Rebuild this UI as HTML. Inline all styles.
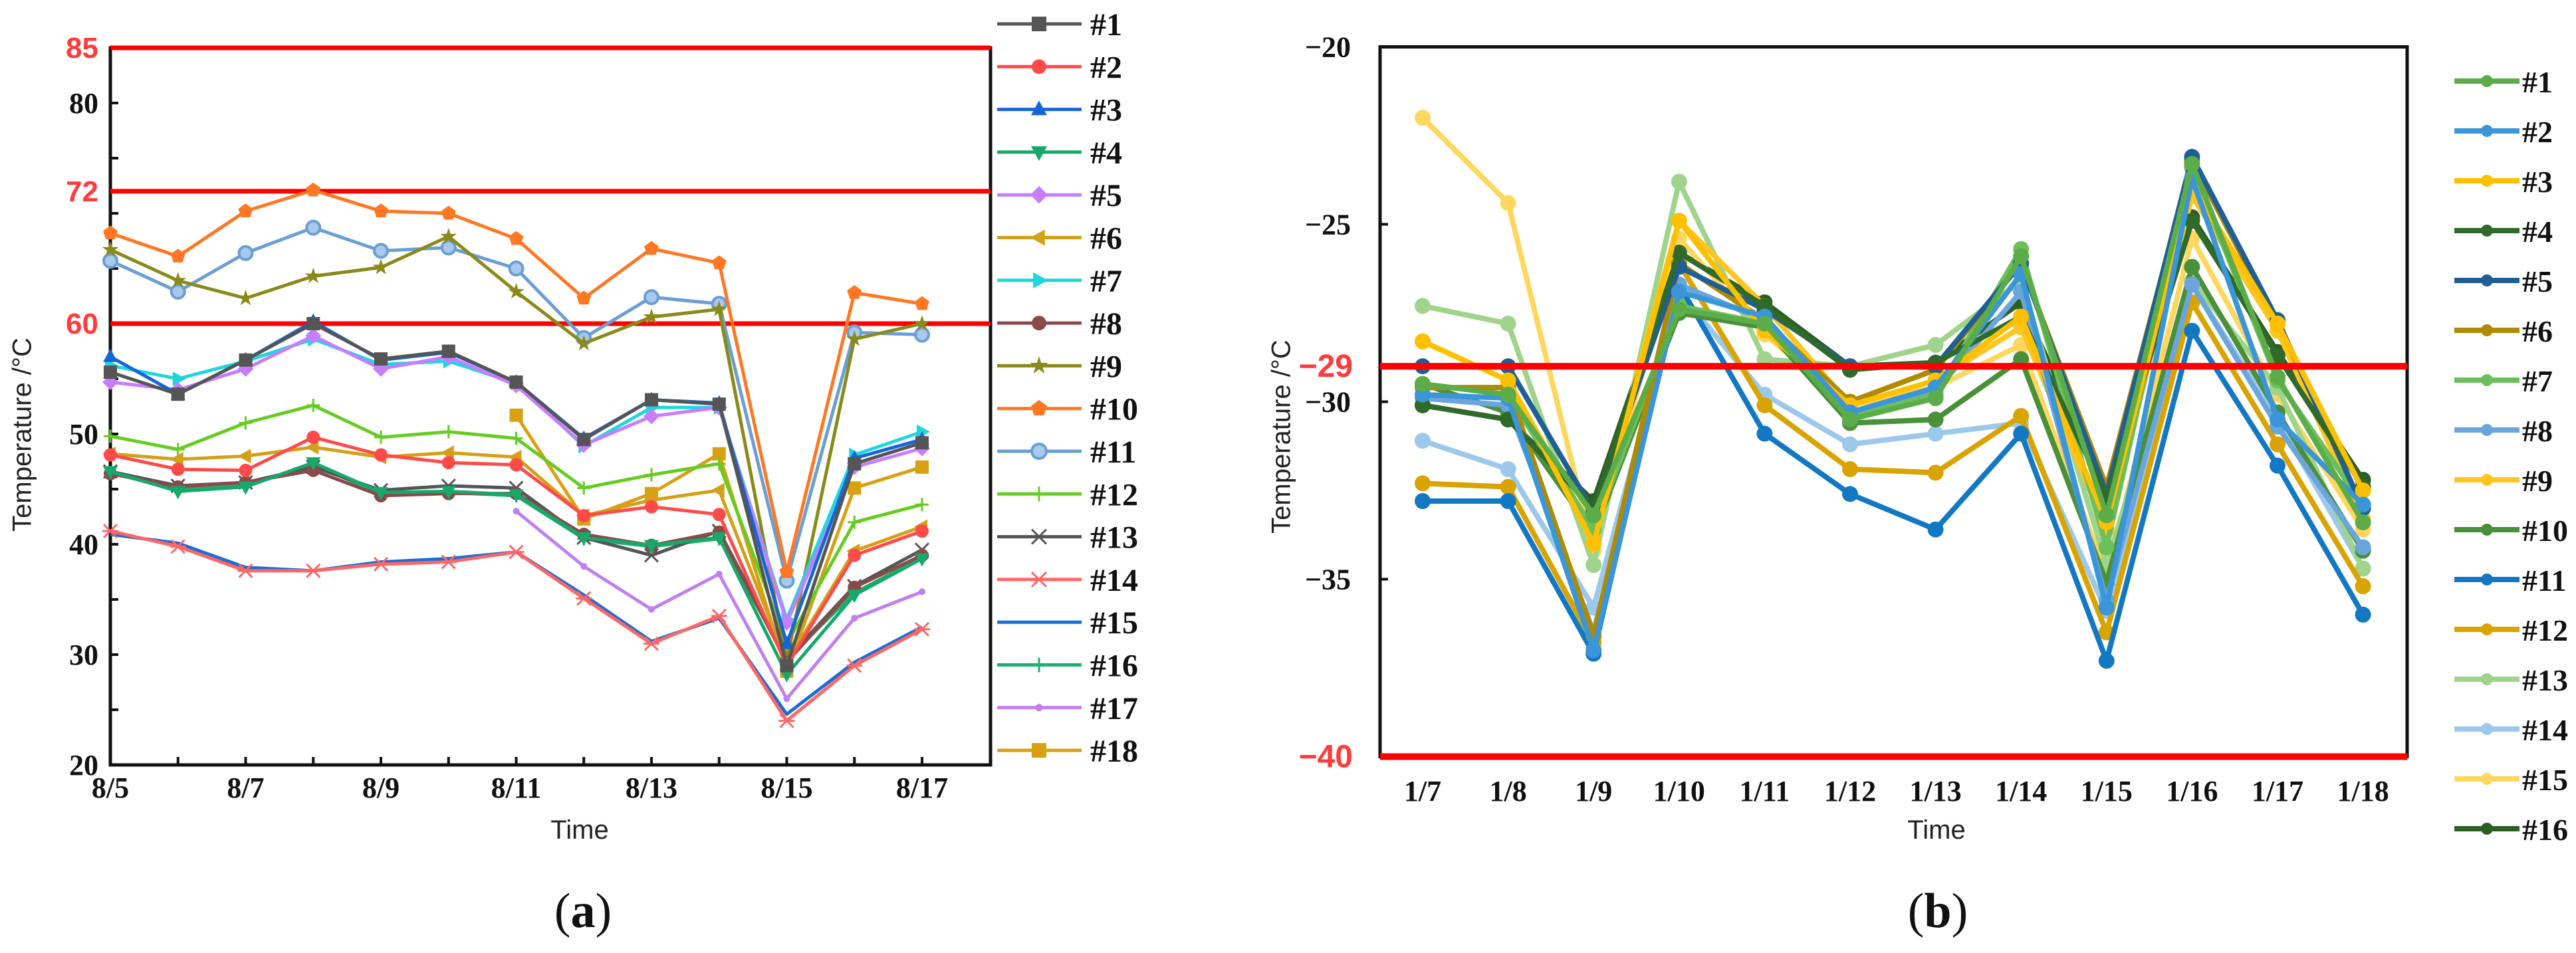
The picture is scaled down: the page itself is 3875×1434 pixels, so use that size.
<!DOCTYPE html>
<html><head><meta charset="utf-8"><style>
html,body{margin:0;padding:0;background:#fff}
svg{display:block}
.tk{font-family:"Liberation Serif",serif;font-weight:bold;font-size:44px;fill:#111}
.rt{font-family:"Liberation Sans",sans-serif;font-weight:bold;font-size:44px;fill:#ff3b3b}
.lg{font-family:"Liberation Serif",serif;font-weight:bold;font-size:48px;fill:#111}
.at{font-family:"Liberation Sans",sans-serif;font-size:40px;fill:#222}
.cap{font-family:"Liberation Serif",serif;font-size:74px;fill:#111}
</style></head><body>
<svg id="s" xmlns="http://www.w3.org/2000/svg" width="3875" height="1434" viewBox="0 0 3875 1434">
<rect width="3875" height="1434" fill="#fff"/>
<g id="ga"></g>
<g id="gb"></g>
<text class="at" x="36" y="654" text-anchor="middle" dominant-baseline="middle" transform="rotate(-90 36 654)">Temperature /°C</text>
<text class="at" x="872" y="1262" text-anchor="middle" font-size="44">Time</text>
<text class="cap" x="877" y="1395" text-anchor="middle">(<tspan font-weight="bold">a</tspan>)</text>
<text class="at" x="1930" y="657" text-anchor="middle" dominant-baseline="middle" transform="rotate(-90 1930 657)">Temperature /°C</text>
<text class="at" x="2913" y="1262" text-anchor="middle" font-size="44">Time</text>
<text class="cap" x="2915" y="1395" text-anchor="middle">(<tspan font-weight="bold">b</tspan>)</text>
</svg>
<script>
// ---------- chart (a) data ----------
const catsA = ["8/5","8/6","8/7","8/8","8/9","8/10","8/11","8/12","8/13","8/14","8/15","8/16","8/17"];
const tickLabelsA = ["8/5","8/7","8/9","8/11","8/13","8/15","8/17"];
const yTicksA = [80,50,40,30,20];
const redLinesA = [85,72,60];
const namesA = ["#1","#2","#3","#4","#5","#6","#7","#8","#9","#10","#11","#12","#13","#14","#15","#16","#17","#18"];
const a1 = [55.6,53.6,56.7,60.0,56.8,57.5,54.7,49.5,53.1,52.7,29.0,47.3,49.2];
const a2 = [48.1,46.8,46.7,49.7,48.1,47.4,47.2,42.6,43.4,42.7,29.0,39.0,41.2];
const a3 = [57.0,53.6,56.7,60.2,56.7,57.4,54.7,49.6,53.1,52.8,31.0,47.8,49.5];
const a4 = [46.6,44.8,45.2,47.4,44.7,44.8,44.5,40.6,39.9,40.6,28.2,35.4,38.7];
const a5 = [54.7,54.0,55.9,58.9,55.9,57.0,54.4,49.0,51.6,52.4,32.9,47.0,48.7];
const a6 = [48.2,47.7,48.0,48.8,47.9,48.3,47.9,42.6,44.0,44.9,29.3,39.4,41.6];
const a7 = [56.2,55.0,56.6,58.6,56.3,56.6,54.6,48.9,52.4,52.4,33.2,48.1,50.2];
const a8 = [46.4,45.2,45.6,46.7,44.4,44.6,44.6,40.9,39.9,41.1,29.3,36.1,39.0];
const a9 = [66.7,63.9,62.3,64.3,65.1,67.9,62.9,58.2,60.6,61.3,29.5,58.6,60.0];
const a10 = [68.2,66.1,70.2,72.1,70.2,70.0,67.7,62.3,66.8,65.5,37.5,62.8,61.8];
const a11 = [65.7,62.9,66.4,68.7,66.6,66.9,65.0,58.7,62.4,61.8,36.7,59.2,59.0];
const a12 = [49.8,48.6,51.0,52.6,49.7,50.2,49.6,45.1,46.3,47.3,31.0,42.0,43.6];
const a13 = [46.6,45.3,45.6,47.0,44.9,45.3,45.1,40.6,39.0,41.2,29.6,36.2,39.5];
const a14 = [41.2,39.8,37.6,37.6,38.2,38.4,39.3,35.1,31.0,33.5,24.0,29.0,32.3];
const a15 = [40.9,40.1,37.9,37.6,38.4,38.7,39.3,35.4,31.2,33.3,24.6,29.3,32.5];
const a16 = [46.5,44.9,45.3,47.2,44.6,44.7,44.4,40.5,39.8,40.5,29.6,35.6,38.8];
const a17 = [null,null,null,null,null,null,43.0,38.0,34.1,37.3,26.0,33.3,35.7];
const a18 = [null,null,null,null,null,null,51.7,42.3,44.6,48.2,28.5,45.1,47.0];
const seriesA = [a1,a2,a3,a4,a5,a6,a7,a8,a9,a10,a11,a12,a13,a14,a15,a16,a17,a18];
const colorsA = ["#555555","#ff4a4a","#1565d8","#17a86b","#c77dff","#d4a017","#1fd6dd","#8b4a4a","#8a8a1a","#ff7722","#6a9fd4","#66cc22","#555555","#ff6666","#1a6ed8","#1ab070","#c080f0","#d9a012"];
const shapesA = ["square","circle","up","down","diamond","left","right","circle","star","pent","ring","plus","x","ast","none","plus","dot","square"];

// ---------- chart (b) data ----------
const catsB = ["1/7","1/8","1/9","1/10","1/11","1/12","1/13","1/14","1/15","1/16","1/17","1/18"];
const yTicksB = [-20,-25,-30,-35];
const redLinesB = [-29,-40];
const namesB = ["#1","#2","#3","#4","#5","#6","#7","#8","#9","#10","#11","#12","#13","#14","#15","#16"];
const b1 = [-29.5,-29.8,-33.2,-27.4,-27.8,-30.5,-29.9,-25.9,-33.2,-23.3,-29.3,-33.4];
const b2 = [-29.8,-29.9,-37.0,-26.9,-27.6,-30.3,-29.6,-26.4,-35.8,-23.7,-30.5,-32.9];
const b3 = [-28.3,-29.4,-34.0,-24.9,-28.0,-30.1,-29.4,-27.6,-33.4,-23.9,-27.8,-32.5];
const b4 = [-30.1,-30.5,-33.0,-25.8,-27.3,-29.1,-28.9,-27.6,-32.7,-24.9,-28.7,-32.4];
const b5 = [-29.0,-29.0,-33.1,-26.2,-27.4,-29.0,-29.0,-26.1,-32.6,-23.1,-27.7,-33.0];
const b6 = [-29.6,-29.6,-36.6,-26.1,-27.7,-30.0,-29.1,-26.1,-32.4,-23.2,-27.8,-32.5];
const b7 = [-29.5,-29.8,-33.6,-27.3,-27.8,-30.4,-29.8,-25.7,-34.1,-23.4,-29.4,-32.9];
const b8 = [-29.9,-30.1,-36.5,-26.7,-27.7,-30.5,-29.7,-26.9,-35.6,-26.7,-30.7,-34.1];
const b9 = [-28.3,-29.4,-33.7,-24.9,-27.3,-30.1,-29.4,-27.9,-33.6,-24.2,-28.0,-33.3];
const b10 = [-29.5,-30.3,-33.7,-27.5,-27.9,-30.6,-30.5,-28.8,-35.1,-26.2,-30.3,-34.2];
const b11 = [-32.8,-32.8,-37.1,-26.7,-30.9,-32.6,-33.6,-30.9,-37.3,-28.0,-31.8,-36.0];
const b12 = [-32.3,-32.4,-36.8,-26.1,-30.1,-31.9,-32.0,-30.4,-36.5,-27.2,-31.2,-35.2];
const b13 = [-27.3,-27.8,-34.6,-23.8,-28.8,-29.0,-28.4,-26.6,-34.6,-26.6,-29.6,-34.7];
const b14 = [-31.1,-31.9,-35.8,-26.9,-29.8,-31.2,-30.9,-30.6,-35.9,-26.7,-30.5,-34.7];
const b15 = [-22.0,-24.4,-34.2,-25.4,-28.1,-30.1,-29.6,-28.4,-34.9,-25.4,-29.8,-33.6];
const b16 = [-30.1,-30.5,-32.8,-25.8,-27.2,-29.0,-28.9,-27.2,-32.4,-24.8,-28.6,-32.2];
const seriesB = [b1,b2,b3,b4,b5,b6,b7,b8,b9,b10,b11,b12,b13,b14,b15,b16];
const colorsB = ["#5cad4a","#3a96d8","#ffc000","#2f6a2a","#1f5f96","#b08a00","#6cbf5a","#6aa6dc","#ffc520","#4a8f3a","#1378c4","#d9a300","#9fd48a","#9cc8ec","#ffd75e","#2b5e22"];

const NS = "http://www.w3.org/2000/svg";
function mk(tag, attrs, parent){const e=document.createElementNS(NS,tag);for(const k in attrs)e.setAttribute(k,attrs[k]);parent.appendChild(e);return e;}

const AL=166,AR=1490,AT=72,AB=1151;
function xA(i){return AL+i*101.75;}
function yA(v){return AT+(85-v)*(AB-AT)/65;}
const BL=2076,BR=3621,BT=70.5,BB=1138.5;
function xB(i){return 2140+i*128.6;}
function yB(v){return BT+(-20-v)*(BB-BT)/20;}

const ga=document.getElementById('ga'), gb=document.getElementById('gb');

let fr=mk('rect',{x:AL,y:AT,width:AR-AL,height:AB-AT,fill:'none',stroke:'#111','stroke-width':5},ga);


for(let v=20;v<=85;v+=5){
  const t=mk('line',{x1:AL,x2:AL+12,y1:yA(v),y2:yA(v),stroke:'#111','stroke-width':4},ga);
  
  
}
catsA.forEach((c,i)=>{
  const t=mk('line',{x1:xA(i),x2:xA(i),y1:AB,y2:AB-12,stroke:'#111','stroke-width':4},ga);
  
  
});
yTicksA.forEach(v=>{
  const t=mk('text',{x:148,y:yA(v)+15,'text-anchor':'end',class:'tk'},ga);
  t.textContent=v;
  
  
});
redLinesA.forEach(v=>{
  const l=mk('line',{x1:AL,x2:AR,y1:yA(v),y2:yA(v),stroke:'#ff0000','stroke-width':7},ga);
  
  
  const t=mk('text',{x:148,y:yA(v)+15,'text-anchor':'end',class:'rt'},ga);
  t.textContent=v;
  
  
});
tickLabelsA.forEach(lab=>{
  const i=catsA.indexOf(lab);
  const t=mk('text',{x:xA(i),y:1200,'text-anchor':'middle',class:'tk'},ga);
  t.textContent=lab;
  
  
});

function marker(g,shape,x,y,c,r){
  let e;
  const p=(pts)=>mk('polygon',{points:pts.map(q=>q.join(',')).join(' '),fill:c},g);
  switch(shape){
    case 'square': e=mk('rect',{x:x-r,y:y-r,width:2*r,height:2*r,fill:c},g);break;
    case 'circle': e=mk('circle',{cx:x,cy:y,r:r,fill:c},g);break;
    case 'ring': e=mk('circle',{cx:x,cy:y,r:r,fill:'#a8c8ec',stroke:c,'stroke-width':4},g);break;
    case 'up': e=p([[x,y-r*1.2],[x-r*1.1,y+r*0.8],[x+r*1.1,y+r*0.8]]);break;
    case 'down': e=p([[x,y+r*1.2],[x-r*1.1,y-r*0.8],[x+r*1.1,y-r*0.8]]);break;
    case 'left': e=p([[x-r*1.2,y],[x+r*0.8,y-r*1.1],[x+r*0.8,y+r*1.1]]);break;
    case 'right': e=p([[x+r*1.2,y],[x-r*0.8,y-r*1.1],[x-r*0.8,y+r*1.1]]);break;
    case 'diamond': e=p([[x,y-r*1.2],[x+r*1.2,y],[x,y+r*1.2],[x-r*1.2,y]]);break;
    case 'pent': {const a=[];for(let k=0;k<5;k++){const t=-Math.PI/2+k*2*Math.PI/5;a.push([x+r*1.15*Math.cos(t),y+r*1.15*Math.sin(t)]);}e=p(a);break;}
    case 'star': {const a=[];for(let k=0;k<10;k++){const t=-Math.PI/2+k*Math.PI/5;const rr=k%2?r*0.5:r*1.3;a.push([x+rr*Math.cos(t),y+rr*Math.sin(t)]);}e=p(a);break;}
    case 'plus': e=mk('path',{d:`M${x-r} ${y}H${x+r}M${x} ${y-r}V${y+r}`,stroke:c,'stroke-width':3},g);break;
    case 'x': e=mk('path',{d:`M${x-r} ${y-r}L${x+r} ${y+r}M${x-r} ${y+r}L${x+r} ${y-r}`,stroke:c,'stroke-width':3},g);break;
    case 'ast': e=mk('path',{d:`M${x-r} ${y-r}L${x+r} ${y+r}M${x-r} ${y+r}L${x+r} ${y-r}M${x-r*1.2} ${y}H${x+r*1.2}`,stroke:c,'stroke-width':3},g);break;
    case 'dot': e=mk('circle',{cx:x,cy:y,r:r*0.5,fill:c},g);break;
    default: return;
  }
  
  
}

for(let s=seriesA.length-1;s>=0;s--){
  const g=mk('g',{},ga);
  
  
  const d=[];
  seriesA[s].forEach((v,i)=>{if(v!==null)d.push((d.length?'L':'M')+xA(i)+' '+yA(v));});
  const pl=mk('path',{d:d.join(''),fill:'none',stroke:colorsA[s],'stroke-width':5,'stroke-linejoin':'round'},g);
  
  
  seriesA[s].forEach((v,i)=>{if(v!==null)marker(g,shapesA[s],xA(i),yA(v),colorsA[s],10);});
}
namesA.forEach((n,k)=>{
  const y=36+k*64.3;
  const g=mk('g',{},ga);
  
  
  const l=mk('line',{x1:1500,x2:1627,y1:y,y2:y,stroke:colorsA[k],'stroke-width':5},g);
  
  
  marker(g,shapesA[k],1563,y,colorsA[k],11);
  const t=mk('text',{x:1640,y:y+17,class:'lg'},g);
  t.textContent=n;
  
  
});

fr=mk('rect',{x:BL,y:BT,width:BR-BL,height:BB-BT,fill:'none',stroke:'#111','stroke-width':5},gb);


yTicksB.forEach(v=>{
  const tk=mk('line',{x1:BL,x2:BL+12,y1:yB(v),y2:yB(v),stroke:'#111','stroke-width':4},gb);
  
  
  const t=mk('text',{x:2032,y:yB(v)+15,'text-anchor':'end',class:'tk'},gb);
  t.textContent='\u2212'+Math.abs(v);
  
  
});
catsB.forEach((c,i)=>{
  const t=mk('text',{x:xB(i),y:1205,'text-anchor':'middle',class:'tk'},gb);
  t.textContent=c;
  
  
});
for(let s=seriesB.length-1;s>=0;s--){
  const g=mk('g',{},gb);
  
  
  const d=seriesB[s].map((v,i)=>(i?'L':'M')+xB(i)+' '+yB(v)).join('');
  const pl=mk('path',{d:d,fill:'none',stroke:colorsB[s],'stroke-width':8,'stroke-linejoin':'round'},g);
  
  
  seriesB[s].forEach((v,i)=>{
    const c=mk('circle',{cx:xB(i),cy:yB(v),r:12,fill:colorsB[s]},g);
    
    
  });
}
redLinesB.forEach(v=>{
  const l=mk('line',{x1:BL,x2:BR,y1:yB(v),y2:yB(v),stroke:'#ff0000','stroke-width':10},gb);
  
  
  const t=mk('text',{x:2035,y:yB(v)+16,'text-anchor':'end',class:'rt',style:'font-size:48px'},gb);
  t.textContent='\u2212'+Math.abs(v);
  
  
});
namesB.forEach((n,k)=>{
  const y=122+k*75;
  const g=mk('g',{},gb);
  
  
  const l=mk('line',{x1:3692,x2:3790,y1:y,y2:y,stroke:colorsB[k],'stroke-width':8},g);
  
  
  const c=mk('circle',{cx:3741,cy:y,r:9,fill:colorsB[k]},g);
  
  
  const t=mk('text',{x:3794,y:y+17,class:'lg',style:'font-size:46px'},g);
  t.textContent=n;
  
  
});
</script>
</body></html>
